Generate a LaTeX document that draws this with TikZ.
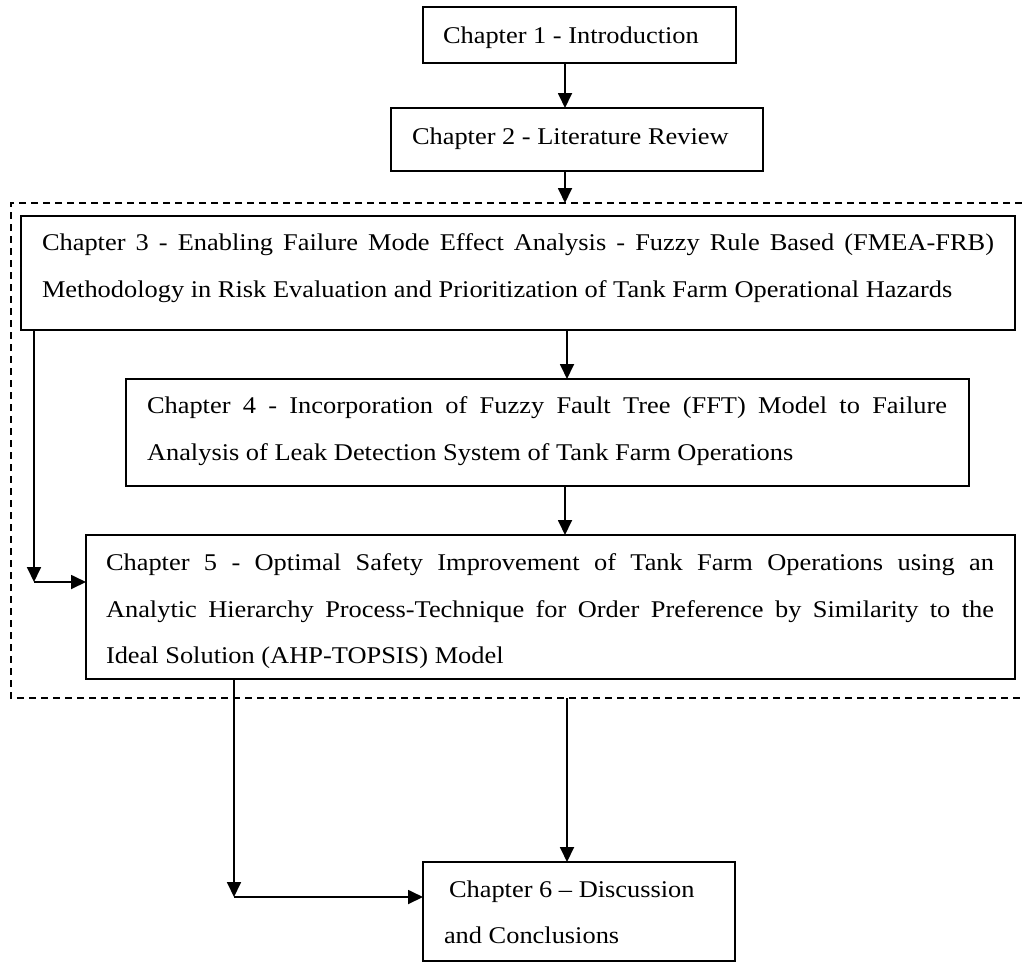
\documentclass[tikz,border=0pt]{standalone}
\usepackage{fontspec}
\setmainfont{Liberation Serif}[FakeStretch=1.1]
\usetikzlibrary{arrows.meta}
\tikzset{
  box/.style={draw, line width=1.8pt, inner sep=0pt, outer sep=0pt, anchor=north west},
  txt/.style={anchor=base west, inner sep=0pt, outer sep=0pt, font=\fontsize{24}{28}\selectfont},
  arr/.style={line width=1.8pt, -{Triangle[length=15pt,width=14pt]}},
  grp/.style={line width=1.5pt, dash pattern=on 7pt off 5pt}
}
\begin{document}
\begin{tikzpicture}[x=1pt,y=-1pt]
\useasboundingbox (0,0) rectangle (1022,962);
% boxes
\node[box, minimum width=313pt, minimum height=56pt]  (c1) at (423,7)   {};
\node[box, minimum width=372pt, minimum height=63pt]  (c2) at (391,108) {};
\node[box, minimum width=994pt, minimum height=114pt] (c3) at (21,216)  {};
\node[box, minimum width=843pt, minimum height=107pt] (c4) at (126,379) {};
\node[box, minimum width=929pt, minimum height=144pt] (c5) at (86,535)  {};
\node[box, minimum width=312pt, minimum height=99pt]  (c6) at (423,862) {};
% texts
\node[txt] (t1)  at (443,43)  {Chapter 1 - Introduction};
\node[txt] (t2)  at (412,144) {Chapter 2 - Literature Review};
\node[txt] (t3a) at (42,250)  {\makebox[952pt][s]{Chapter 3 - Enabling Failure Mode Effect Analysis - Fuzzy Rule Based (FMEA-FRB)}};
\node[txt] (t3b) at (42,297)  {Methodology in Risk Evaluation and Prioritization of Tank Farm Operational Hazards};
\node[txt] (t4a) at (147,413) {\makebox[800pt][s]{Chapter 4 - Incorporation of Fuzzy Fault Tree (FFT) Model to Failure}};
\node[txt] (t4b) at (147,460) {Analysis of Leak Detection System of Tank Farm Operations};
\node[txt] (t5a) at (106,570) {\makebox[888pt][s]{Chapter 5 - Optimal Safety Improvement of Tank Farm Operations using an}};
\node[txt] (t5b) at (106,617) {\makebox[888pt][s]{Analytic Hierarchy Process-Technique for Order Preference by Similarity to the}};
\node[txt] (t5c) at (106,663) {Ideal Solution (AHP-TOPSIS) Model};
\node[txt] (t6a) at (449,897) {Chapter 6 – Discussion};
\node[txt] (t6b) at (444,943) {and Conclusions};
% dashed group
\draw[grp] (1022,203) -| (11,698) -- (1022,698);
\coordinate (gtop) at (565,203);
\coordinate (gbot) at (567,698);
\coordinate (lc) at (34,582);
\coordinate (bc) at (234,897);
% connectors
\draw[arr] (c1.south -| gtop) -- (c2.north -| gtop);
\draw[arr] (c2.south -| gtop) -- (gtop);
\draw[arr] (c3.south -| gbot) -- (c4.north -| gbot);
\draw[arr] (c4.south -| gtop) -- (c5.north -| gtop);
\draw[arr] (c3.south -| lc) -- (lc);
\draw[arr] (lc) -- (lc -| c5.west);
\draw[arr] (c5.south -| bc) -- (bc);
\draw[arr] (bc) -- (bc -| c6.west);
\draw[arr] (gbot) -- (gbot |- c6.north);
\end{tikzpicture}
\end{document}
